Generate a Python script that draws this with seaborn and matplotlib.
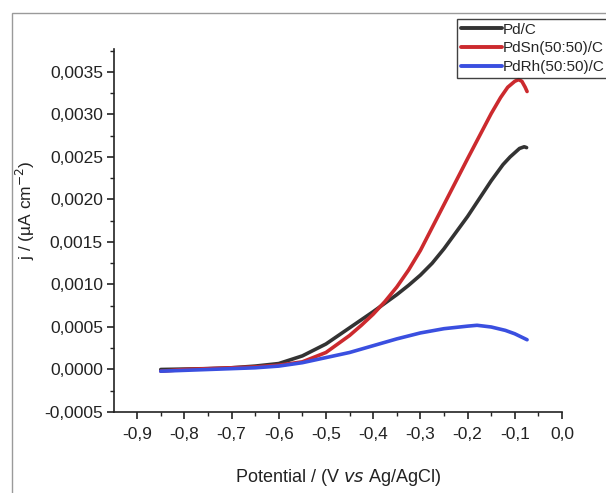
import numpy as np
import pandas as pd
import matplotlib
matplotlib.use("Agg")
import matplotlib.pyplot as plt
from matplotlib.ticker import FuncFormatter, MultipleLocator
from matplotlib.patches import Rectangle
from matplotlib.lines import Line2D
import seaborn as sns

# ---- data ----
pdc_x = [-0.85, -0.80, -0.75, -0.70, -0.65, -0.60, -0.55, -0.50, -0.45, -0.40, -0.375, -0.35,
         -0.325, -0.30, -0.275, -0.25, -0.225, -0.20, -0.175, -0.15, -0.125, -0.11, -0.10,
         -0.09, -0.08, -0.075]
pdc_y = [0.0, 0.000005, 0.00001, 0.00002, 0.00004, 0.00007, 0.00016, 0.00030, 0.00049, 0.00068,
         0.00078, 0.00088, 0.00099, 0.00111, 0.00125, 0.00142, 0.00161, 0.00180, 0.00201, 0.00222,
         0.00241, 0.00250, 0.00255, 0.00260, 0.00262, 0.00261]

pdsn_x = [-0.85, -0.80, -0.75, -0.70, -0.65, -0.60, -0.55, -0.50, -0.45, -0.425, -0.40, -0.375,
          -0.35, -0.325, -0.30, -0.275, -0.25, -0.20, -0.15, -0.13, -0.115, -0.10, -0.092,
          -0.085, -0.078, -0.074]
pdsn_y = [-0.00002, 0.0, 0.00001, 0.00002, 0.00003, 0.00005, 0.00009, 0.00020, 0.00040, 0.00052,
          0.00065, 0.00080, 0.00097, 0.00117, 0.00140, 0.00167, 0.00194, 0.00248, 0.00301, 0.00320,
          0.00332, 0.00339, 0.00341, 0.00339, 0.00332, 0.00327]

pdrh_x = [-0.85, -0.80, -0.75, -0.70, -0.65, -0.60, -0.55, -0.50, -0.45, -0.40, -0.35, -0.30,
          -0.25, -0.20, -0.18, -0.15, -0.12, -0.10, -0.074]
pdrh_y = [-0.00002, -0.00001, 0.0, 0.00001, 0.00002, 0.00004, 0.00008, 0.00014, 0.00020, 0.00028,
          0.00036, 0.00043, 0.00048, 0.00051, 0.00052, 0.00050, 0.00046, 0.00042, 0.00035]

labels = ["Pd/C", "PdSn(50:50)/C", "PdRh(50:50)/C"]
colors = ["#333333", "#cc2a2e", "#3a4fe0"]

x_ticks = [-0.9, -0.8, -0.7, -0.6, -0.5, -0.4, -0.3, -0.2, -0.1, 0.0]
y_ticks = [-0.0005, 0.0, 0.0005, 0.0010, 0.0015, 0.0020, 0.0025, 0.0030, 0.0035]

frames = []
for lab, xs, ys in zip(labels, [pdc_x, pdsn_x, pdrh_x], [pdc_y, pdsn_y, pdrh_y]):
    frames.append(pd.DataFrame({"E": xs, "j": ys, "series": lab}))
df = pd.concat(frames, ignore_index=True)

sns.set_style("ticks")
plt.rcParams["font.family"] = ["Liberation Sans", "DejaVu Sans"]

W, H = 606, 493
fig = plt.figure(figsize=(W / 100, H / 100), dpi=100)
ax = fig.add_axes([114 / W, 1 - 412 / H, (562 - 114) / W, (412 - 49) / H])

# gray outer frame (clipped screenshot border)
fig.patches.append(Rectangle((12 / W, -0.1), 1.2, 1 - 13 / H + 0.1, transform=fig.transFigure,
                             fill=False, edgecolor="#9a9a9a", linewidth=1.0))

sns.lineplot(data=df, x="E", y="j", hue="series", hue_order=labels, palette=colors,
             sort=False, estimator=None, units="series", linewidth=2.6, ax=ax, legend=False)

ax.set_xlim(-0.949, 0.0)
ax.set_ylim(-0.0005, 0.00377)
ax.set_xticks(x_ticks)
ax.set_yticks(y_ticks)
ax.xaxis.set_minor_locator(MultipleLocator(0.05))
ax.yaxis.set_minor_locator(MultipleLocator(0.00025))
ax.xaxis.set_major_formatter(FuncFormatter(lambda v, p: f"{v:.1f}".replace(".", ",").replace("-0,0", "0,0")))
ax.yaxis.set_major_formatter(FuncFormatter(lambda v, p: f"{v:.4f}".replace(".", ",").replace("-0,0000", "0,0000")))

for s in ["top", "right"]:
    ax.spines[s].set_visible(False)
for s in ["left", "bottom"]:
    ax.spines[s].set_linewidth(1.2)
    ax.spines[s].set_color("#222222")

ax.tick_params(axis="both", which="major", direction="out", length=5, width=1.2,
               color="#222222", labelsize=12.5, labelcolor="#222222", pad=3)
ax.tick_params(axis="both", which="minor", direction="out", length=3, width=1.0, color="#222222")
ax.tick_params(axis="x", pad=6)

ax.set_xlabel("Potential / (V $\\it{vs}$ Ag/AgCl)", fontsize=13, color="#222222", labelpad=18)
ax.set_ylabel("j / (µA cm$^{-2}$)", fontsize=12.5, color="#222222")
ax.yaxis.set_label_coords(-0.172, 0.556)

handles = [Line2D([0], [0], color=c, lw=2.8) for c in colors]
leg = fig.legend(handles, labels, loc="upper left", bbox_to_anchor=(457 / W, 1 - 19 / H),
                 fontsize=11, frameon=True, fancybox=False, handlelength=2.7, handletextpad=0.05,
                 labelspacing=0.3, borderpad=0.25, borderaxespad=0.0)
leg.get_frame().set_edgecolor("#111111")
leg.get_frame().set_linewidth(1.0)

fig.savefig("out.png", dpi=100)
